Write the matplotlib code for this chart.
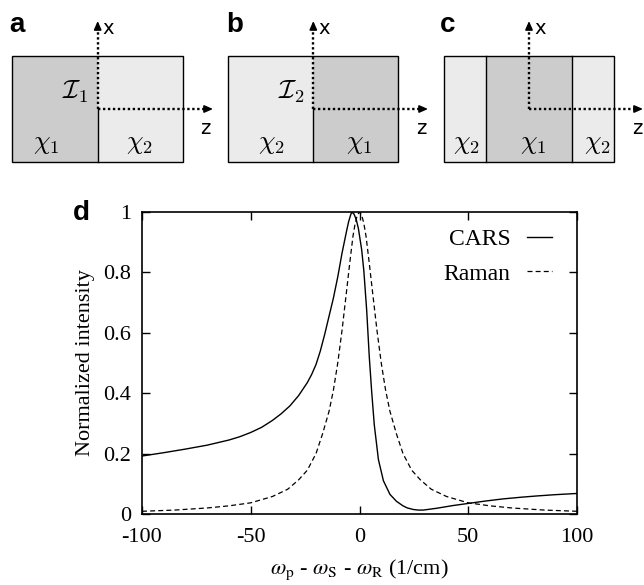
import matplotlib
matplotlib.use("Agg")
import matplotlib.pyplot as plt
from matplotlib.patches import Rectangle

# ---------------- data ----------------
cars_x = [-100, -90, -80, -70, -60, -55, -50, -45, -40, -36, -32, -28, -24, -22, -20,
          -18, -16, -14, -12, -10, -8, -6, -5, -4, -3.5, -2.5, -1.5, -0.5, 1, 2,
          3.3, 4.5, 5.6, 6.8, 8.7, 11, 14, 17, 20, 22, 24.7, 27, 29.3, 35.5, 43, 50,
          58, 66, 75, 82, 90, 100]
cars_y = [0.192, 0.203, 0.215, 0.228, 0.245, 0.256, 0.270, 0.287, 0.310, 0.332, 0.358,
          0.392, 0.435, 0.462, 0.495, 0.540, 0.595, 0.655, 0.715, 0.785, 0.865, 0.935,
          0.968, 0.992, 1.000, 0.993, 0.975, 0.945, 0.875, 0.805, 0.675, 0.520, 0.405,
          0.295, 0.180, 0.110, 0.065, 0.042, 0.027, 0.020, 0.015, 0.013, 0.013, 0.019,
          0.028, 0.035, 0.043, 0.050, 0.056, 0.060, 0.064, 0.068]

raman_x = [-100, -85, -70, -60, -50, -40, -33, -28, -24, -20, -17, -14, -12, -10, -8,
           -6, -4.5, -3, -2, -1, 0, 1, 2, 3, 4.5, 6, 8, 10, 12, 14, 17, 20, 24, 28,
           33, 40, 50, 60, 70, 85, 100]
raman_y = [0.009, 0.013, 0.020, 0.027, 0.037, 0.058, 0.082, 0.113, 0.145, 0.200,
           0.265, 0.340, 0.410, 0.500, 0.610, 0.735, 0.830, 0.920, 0.962, 0.990,
           1.000, 0.990, 0.962, 0.920, 0.830, 0.735, 0.610, 0.500, 0.410, 0.340,
           0.265, 0.200, 0.145, 0.113, 0.082, 0.058, 0.037, 0.027, 0.020, 0.013,
           0.009]

series_labels = ["CARS", "Raman"]
x_ticks = [-100, -50, 0, 50, 100]
x_tick_labels = ["-100", "-50", "0", "50", "100"]
y_ticks = [0, 0.2, 0.4, 0.6, 0.8, 1.0]
y_tick_labels = ["0", "0.2", "0.4", "0.6", "0.8", "1"]
x_label = r"$\omega_\mathrm{p}$ - $\omega_\mathrm{S}$ - $\omega_\mathrm{R}$ (1/cm)"
y_label = "Normalized intensity"

# ---------------- figure ----------------
W, H = 644, 585
fig = plt.figure(figsize=(W / 100, H / 100), dpi=100)

serif = "Liberation Serif"
DARK = "#cccccc"
LIGHT = "#ebebeb"

# overlay axes in pixel coordinates for the schematic panels
ov = fig.add_axes([0, 0, 1, 1])
ov.set_xlim(0, W)
ov.set_ylim(H, 0)
ov.axis("off")


def box(x0, x1, y0, y1, color):
    ov.add_patch(Rectangle((x0, y0), x1 - x0, y1 - y0, facecolor=color,
                           edgecolor="none", zorder=1))


def frame(x0, x1, y0, y1):
    ov.add_patch(Rectangle((x0, y0), x1 - x0, y1 - y0, facecolor="none",
                           edgecolor="black", lw=1.0, zorder=3))


def vline(x, y0, y1):
    ov.plot([x, x], [y0, y1], color="black", lw=1.0, zorder=3)


def axes_arrows(ox, oy, xtip_y, ztip_x):
    ov.plot([ox, ox], [oy, xtip_y + 4], color="black", lw=1.7,
            ls=(0, (1, 1.1)), zorder=4, solid_capstyle="butt")
    ov.plot([ox, ztip_x - 4], [oy, oy], color="black", lw=1.7,
            ls=(0, (1, 1.1)), zorder=4, solid_capstyle="butt")
    ov.annotate("", xy=(ox, xtip_y), xytext=(ox, xtip_y + 6),
                arrowprops=dict(arrowstyle="-|>,head_length=0.5,head_width=0.22",
                                color="black", lw=1.2, shrinkA=0, shrinkB=0),
                zorder=5)
    ov.annotate("", xy=(ztip_x, oy), xytext=(ztip_x - 6, oy),
                arrowprops=dict(arrowstyle="-|>,head_length=0.5,head_width=0.22",
                                color="black", lw=1.2, shrinkA=0, shrinkB=0),
                zorder=5)


def chi(x, y, s):
    ov.text(x, y, s, fontsize=19, ha="center", va="center", math_fontfamily="cm",
            zorder=6)


def letter(x, y, s):
    ov.text(x, y, s, fontsize=20, fontweight="bold", family="Liberation Sans",
            ha="center", va="center", zorder=6)


def axlab(x, y, s):
    ov.text(x, y, s, fontsize=14, family="DejaVu Sans", ha="center", va="center",
            zorder=6)


TOP, BOT, OY, XT = 55.5, 162.3, 109, 21

# panel a
box(12.3, 97.7, TOP, BOT, DARK)
box(97.7, 182.7, TOP, BOT, LIGHT)
frame(12.3, 182.7, TOP, BOT)
vline(97.7, OY, BOT)
axes_arrows(97.7, OY, XT, 213)
letter(17, 25, "a")
axlab(108, 29, "x")
axlab(205, 128, "z")
ov.text(75, 92, r"$\mathcal{I}_1$", fontsize=19, ha="center", va="center",
        math_fontfamily="cm", zorder=6)
chi(46, 143, r"$\chi_1$")
chi(139, 143, r"$\chi_2$")

# panel b
box(228.3, 313.3, TOP, BOT, LIGHT)
box(313.3, 398.3, TOP, BOT, DARK)
frame(228.3, 398.3, TOP, BOT)
vline(313.3, OY, BOT)
axes_arrows(313.3, OY, XT, 428)
letter(235, 25, "b")
axlab(324, 29, "x")
axlab(421, 128, "z")
ov.text(291, 92, r"$\mathcal{I}_2$", fontsize=19, ha="center", va="center",
        math_fontfamily="cm", zorder=6)
chi(271, 143, r"$\chi_2$")
chi(359, 143, r"$\chi_1$")

# panel c
box(444, 486, TOP, BOT, LIGHT)
box(486, 571.7, TOP, BOT, DARK)
box(571.7, 614, TOP, BOT, LIGHT)
frame(444, 614, TOP, BOT)
vline(486, TOP, BOT)
vline(571.7, TOP, BOT)
axes_arrows(529, OY, XT, 643)
letter(448, 25, "c")
axlab(540, 29, "x")
axlab(637, 128, "z")
chi(466, 143, r"$\chi_2$")
chi(533, 143, r"$\chi_1$")
chi(597, 143, r"$\chi_2$")

# panel d label
letter(81.5, 213, "d")

# ---------------- main plot ----------------
ax = fig.add_axes([142 / W, 1 - 514 / H, 435 / W, 302 / H])
ax.plot(cars_x, cars_y, color="black", lw=1.0, label=series_labels[0])
ax.plot(raman_x, raman_y, color="black", lw=0.9, ls=(0, (4, 2.5)),
        label=series_labels[1])
ax.set_xlim(-100, 100)
ax.set_ylim(0, 1)
ax.set_xticks(x_ticks)
ax.set_xticklabels(x_tick_labels, family=serif, fontsize=16)
ax.set_yticks(y_ticks)
ax.set_yticklabels(y_tick_labels, family=serif, fontsize=16)
ax.tick_params(direction="in", length=6, width=1.0, top=True, right=True)
ax.tick_params(axis="x", pad=10)
ax.tick_params(axis="y", pad=8)
for sp in ax.spines.values():
    sp.set_linewidth(1.2)
ax.set_xlabel(x_label, family=serif, fontsize=16, math_fontfamily="stix",
              labelpad=8)
ax.set_ylabel(y_label, family=serif, fontsize=16, labelpad=6)

leg = ax.legend(loc="upper right", bbox_to_anchor=(1 - 4 / 435, 1 + 5 / 302),
                frameon=False, markerfirst=False,
                prop={"family": serif, "size": 17}, handlelength=1.05,
                handletextpad=0.7, labelspacing=0.57, borderaxespad=0.5)

fig.savefig("out.png", dpi=100)
